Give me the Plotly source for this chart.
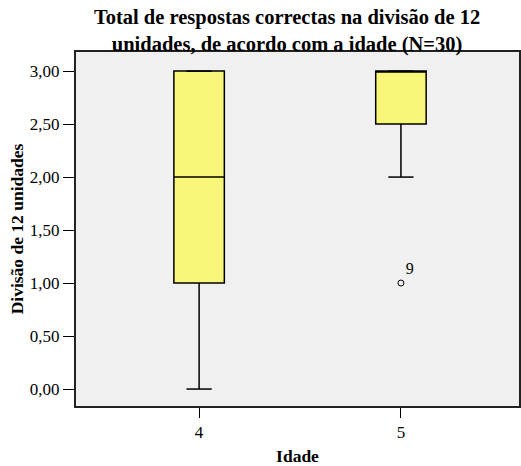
import plotly.graph_objects as go

ages = [4, 5]
age_labels = ["4", "5"]
q1 = [1.0, 2.5]
median = [2.0, 3.0]
q3 = [3.0, 3.0]
lower_whisker = [0.0, 2.0]
upper_whisker = [3.0, 3.0]
outlier_x = [5]
outlier_y = [1.0]
outlier_case = ["9"]

BOX_W = 0.25
CAP_W = 0.125
FONT = "Liberation Serif"

fig = go.Figure()
fig.add_trace(go.Box(
    x=ages, q1=q1, median=median, q3=q3,
    lowerfence=lower_whisker, upperfence=upper_whisker,
    width=BOX_W, fillcolor="#F9F77A",
    line=dict(color="black", width=1.5),
    boxpoints=False, whiskerwidth=0, showlegend=False, hoverinfo="skip",
))
# whisker caps
for xi, lo, hi in zip(ages, lower_whisker, upper_whisker):
    for v in (lo, hi):
        fig.add_trace(go.Scatter(
            x=[xi - CAP_W / 2, xi + CAP_W / 2], y=[v, v], mode="lines",
            line=dict(color="black", width=1.5), showlegend=False, hoverinfo="skip",
        ))
# outliers
fig.add_trace(go.Scatter(
    x=outlier_x, y=outlier_y, mode="markers+text", text=outlier_case,
    textposition="top right",
    textfont=dict(family=FONT, size=16, color="black"),
    marker=dict(symbol="circle-open", size=6, color="black", line=dict(width=1)),
    showlegend=False, hoverinfo="skip",
))

fig.update_layout(
    width=521, height=466,
    margin=dict(l=76, r=2, t=52, b=60),
    paper_bgcolor="white", plot_bgcolor="#F0F0F0",
    font=dict(family=FONT, color="black", size=17),
    title=dict(
        text="<b>Total de respostas correctas na divisão de 12<br>unidades, de acordo com a idade (N=30)</b>",
        x=0.551, xanchor="center", yref="container", y=0.948, yanchor="top",
        font=dict(family=FONT, size=20.5, color="black"),
    ),
)
fig.update_xaxes(
    range=[3.39, 5.585], tickvals=ages, ticktext=age_labels,
    ticks="outside", ticklen=10, tickcolor="black", tickwidth=1,
    showline=True, linecolor="#222", linewidth=2, mirror=True,
    showgrid=False, zeroline=False, automargin=False,
    title=dict(text="<b>Idade</b>", font=dict(family=FONT, size=17.5), standoff=11),
    tickfont=dict(family=FONT, size=17),
)
fig.update_yaxes(
    range=[-0.16, 3.18], tickvals=[0, 0.5, 1, 1.5, 2, 2.5, 3],
    ticktext=["0,00", "0,50", "1,00", "1,50", "2,00", "2,50", "3,00"],
    ticks="outside", ticklen=11, tickcolor="black", tickwidth=1,
    showline=True, linecolor="#222", linewidth=2, mirror=True,
    showgrid=False, zeroline=False, automargin=False,
    title=dict(text="<b>Divisão de 12 unidades</b>", font=dict(family=FONT, size=17.5), standoff=2),
    tickfont=dict(family=FONT, size=17),
)

fig.write_html("out.html")
